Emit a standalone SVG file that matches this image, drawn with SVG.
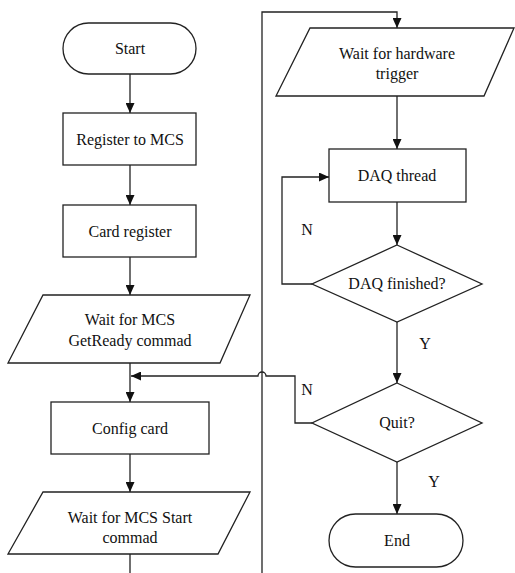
<svg xmlns="http://www.w3.org/2000/svg" width="515" height="573" viewBox="0 0 515 573" font-family="'Liberation Serif', 'DejaVu Serif', serif">
<defs>
<marker id="arr" markerUnits="userSpaceOnUse" markerWidth="10" markerHeight="9" refX="10" refY="4.5" orient="auto">
<path d="M0,0 L10,4.5 L0,9 z" fill="#111"/>
</marker>
<style>
.shape{fill:#fff;stroke:#222;stroke-width:1.3}
.conn{fill:none;stroke:#222;stroke-width:1.3}
text{font-family:'Liberation Serif','DejaVu Serif',serif;font-size:16px;fill:#111;text-anchor:middle}
</style>
</defs>
<rect width="515" height="573" fill="#fff"/>
<g id="connectors">
<path class="conn" d="M130,74 V113" marker-end="url(#arr)"/>
<path class="conn" d="M130,165 V205" marker-end="url(#arr)"/>
<path class="conn" d="M130,257 V295" marker-end="url(#arr)"/>
<path class="conn" d="M130,363 V402" marker-end="url(#arr)"/>
<path class="conn" d="M130,454 V492" marker-end="url(#arr)"/>
<path class="conn" d="M130,554 V573"/>
<path class="conn" d="M262,573 V12 H397 V28" marker-end="url(#arr)"/>
<path class="conn" d="M397,96 V149" marker-end="url(#arr)"/>
<path class="conn" d="M397,202 V245" marker-end="url(#arr)"/>
<path class="conn" d="M312,284 H282 V177 H329" marker-end="url(#arr)"/>
<path class="conn" d="M397,322 V383" marker-end="url(#arr)"/>
<path class="conn" d="M397,462 V514" marker-end="url(#arr)"/>
<path class="conn" d="M312,423 H295 V376 H266 A4,4 0 0 0 258,376 H131" marker-end="url(#arr)"/>
</g>
<g id="start"><rect class="shape" x="63" y="23" width="133" height="51" rx="25.5"/><text x="130" y="54">Start</text></g>
<g id="register-mcs"><rect class="shape" x="63" y="113" width="133" height="52"/><text x="130" y="145">Register to MCS</text></g>
<g id="card-register"><rect class="shape" x="63" y="205" width="133" height="52"/><text x="130" y="237">Card register</text></g>
<g id="wait-getready"><polygon class="shape" points="43,295 250,295 220,363 8,363"/><text x="130" y="325">Wait for MCS</text><text x="130" y="346">GetReady commad</text></g>
<g id="config-card"><rect class="shape" x="51" y="402" width="158" height="52"/><text x="130" y="434">Config card</text></g>
<g id="wait-start"><polygon class="shape" points="43,492 250,492 218,554 8,554"/><text x="130" y="523">Wait for MCS Start</text><text x="130" y="543">commad</text></g>
<g id="wait-trigger"><polygon class="shape" points="310,28 514,28 484,96 276,96"/><text x="397" y="59">Wait for hardware</text><text x="397" y="79">trigger</text></g>
<g id="daq-thread"><rect class="shape" x="329" y="149" width="137" height="53"/><text x="397" y="181">DAQ thread</text></g>
<g id="daq-finished"><polygon class="shape" points="397,245 482,284 397,322 312,284"/><text x="397" y="289">DAQ finished?</text></g>
<g id="quit"><polygon class="shape" points="397,383 482,423 397,462 312,423"/><text x="397" y="428">Quit?</text></g>
<g id="end"><rect class="shape" x="329" y="514" width="134" height="53" rx="26.5"/><text x="397" y="546">End</text></g>
<g id="labels">
<text x="307" y="235">N</text>
<text x="425" y="349">Y</text>
<text x="307" y="395">N</text>
<text x="434" y="487">Y</text>
</g>
</svg>
